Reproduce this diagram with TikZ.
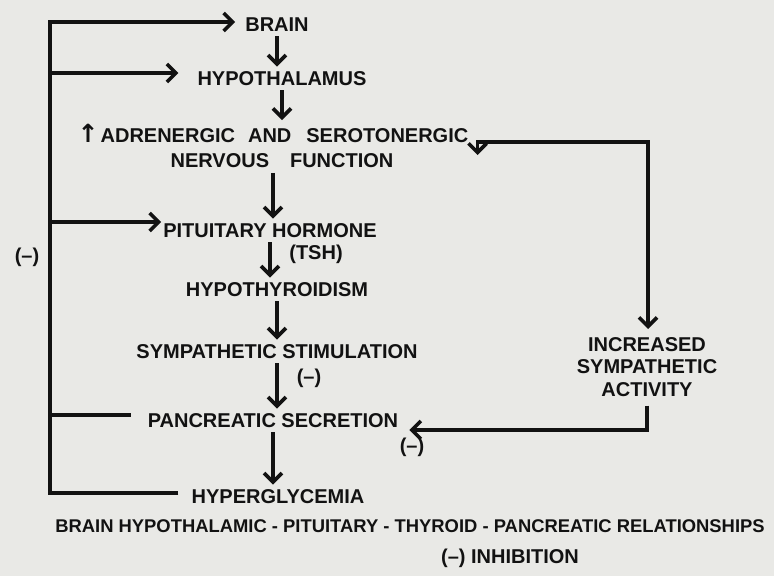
\documentclass[tikz,border=0pt]{standalone}
\usepackage{fontspec}
\setmainfont{Liberation Sans}
\newfontfamily\symfont{DejaVu Sans}
\usepackage{xcolor}
\usetikzlibrary{arrows.meta, positioning, calc}
\definecolor{paper}{RGB}{233,233,230}
\definecolor{ink}{RGB}{18,18,18}

\begin{document}
\begin{tikzpicture}[x=1pt,y=-1pt]
\tikzset{
  lb/.style={inner sep=0pt,text height=14.5pt,text depth=0pt,font=\fontsize{20}{25}\selectfont\bfseries,text=ink},
  ml/.style={inner sep=0pt,align=center,anchor=north,text=ink},
  cp/.style={inner sep=0pt,text height=14.5pt,text depth=0pt,font=\fontsize{18.4}{22}\selectfont\bfseries,text=ink},
  ln/.style={line width=3.6pt,draw=ink},
  ar/.style={ln,-{Straight Barb[length=9pt,width=18pt]}}
}
\fill[paper] (0,0) rectangle (774,576);
% main chain
\node[lb] (brain) at (277,24) {BRAIN};
\node[lb] (hypo) at (282,78) {HYPOTHALAMUS};
\node[ml,font=\fontsize{20}{25}\selectfont\bfseries] (adr) at (273,124) {{\symfont\bfseries\fontsize{25}{25}\selectfont ↑}\hspace{2pt}ADRENERGIC\hspace{13pt}AND\hspace{15pt}SEROTONERGIC\\\hspace*{18pt}NERVOUS\hspace{21pt}FUNCTION};
\node[lb] (pit) at (270,230) {PITUITARY HORMONE};
\node[lb] (tsh) at (316,252) {(TSH)};
\node[lb] (hyp) at (277,289) {HYPOTHYROIDISM};
\node[lb] (symp) at (277,351) {SYMPATHETIC STIMULATION};
\node[lb] (mn1) at (309,376) {(--)};
\node[lb] (panc) at (273,420) {PANCREATIC SECRETION};
\node[lb] (hyper) at (278,496) {HYPERGLYCEMIA};
\node[ml,font=\fontsize{20}{22.5}\selectfont\bfseries] (incr) at (647,337) {INCREASED\\SYMPATHETIC\\ACTIVITY};
\node[lb] (mn2) at (412,445) {(--)};
\node[lb] (mnl) at (27,255) {(--)};
\node[cp] (cap1) at (410,525) {BRAIN HYPOTHALAMIC - PITUITARY - THYROID - PANCREATIC RELATIONSHIPS};
\node[lb] (cap2) at (510,556) {(--) INHIBITION};
\foreach \a/\b in {brain/hypo,hypo/adr,adr/pit,pit/hyp,hyp/symp,symp/panc,panc/hyper}{\draw[ar,shorten <=5pt,shorten >=4pt] (\a.south) -- (\a.south |- \b.north);}
% feedback on the left
\coordinate (ttop) at (50,22);
\coordinate (tbot) at (50,493);
\draw[ar] ($(hyper.west)+(-13,-3)$) -- (tbot) -- (ttop) -- ($(brain.west)+(-10,-2)$);
\draw[ar] ($(ttop |- hypo.west)+(0,-5)$) -- ($(hypo.west)+(-19,-5)$);
\draw[ar] ($(ttop |- pit.west)+(0,-8)$) -- ($(pit.west)+(-2,-8)$);
\draw[ln] ($(ttop |- panc.west)+(0,-5)$) -- ($(panc.west)+(-17,-5)$);
% loop on the right
\coordinate (rtop) at (648,142);
\draw[ln,{Straight Barb[length=9pt,width=18pt]}-{Straight Barb[length=9pt,width=18pt]}] ($(adr.north east)+(9,31)$) |- (rtop) -- ($(rtop |- incr.north)+(0,-8)$);
\draw[ar,shorten <=9pt] (incr.south) |- ($(panc.east)+(11,10)$);
\end{tikzpicture}
\end{document}
